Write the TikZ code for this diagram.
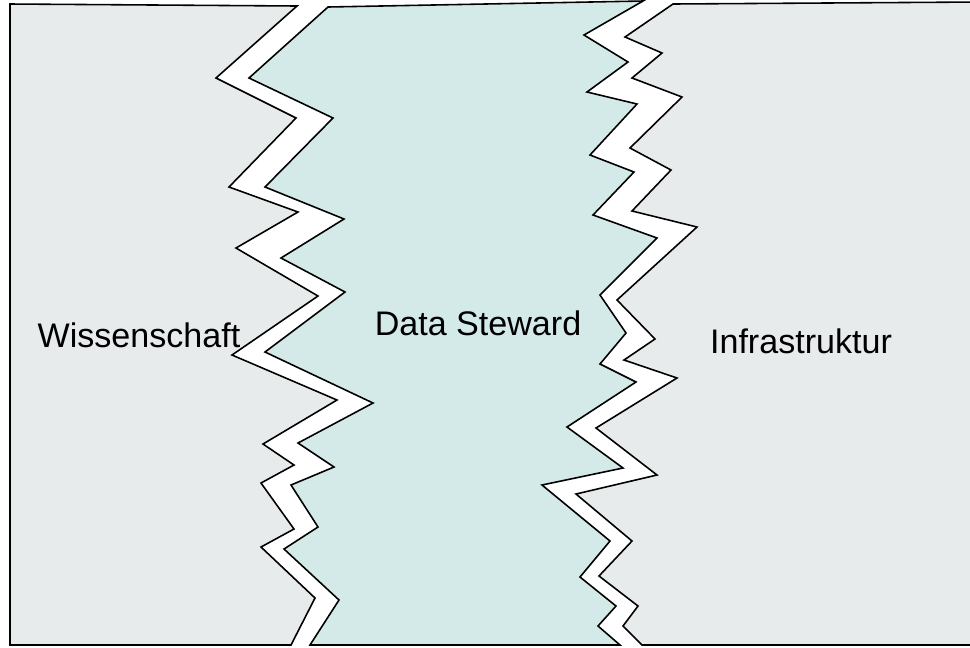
\documentclass[tikz,border=0pt]{standalone}
\usepackage{fontspec}
\setmainfont{Liberation Sans}
\definecolor{sciencegray}{HTML}{E8EBEC}
\definecolor{stewardteal}{HTML}{D3EAE8}
\begin{document}
\begin{tikzpicture}[x=0.02cm,y=-0.02cm,
    area/.style={draw=black,line width=0.9pt,line join=miter},
    areatext/.style={font=\fontsize{19.4}{23}\selectfont,anchor=base}]
    \useasboundingbox (0,0) rectangle (970,647);

    % Wissenschaft
    \filldraw[area,fill=sciencegray] (10,4) -- (297,6) -- (216,78) -- (296,118) -- (229,187)
        -- (298,212) -- (236,248) -- (318,296) -- (232,355) -- (337,400) -- (263,444)
        -- (294,465) -- (261,483) -- (294,529) -- (261,547) -- (315,598) -- (291,645)
        -- (10,645) -- cycle;

    % Data Steward
    \filldraw[area,fill=stewardteal] (328,7) -- (643,1) -- (584,35) -- (628,62) -- (587,92)
        -- (637,104) -- (590,155) -- (634,172) -- (593,215) -- (657,238) -- (600,295)
        -- (626,333) -- (600,364) -- (636,382) -- (567,427) -- (623,468) -- (542,485)
        -- (610,541) -- (580,577) -- (616,606) -- (598,626) -- (620,645)
        -- (310,645) -- (339,600) -- (284,549) -- (318,527) -- (291,485) -- (334,467)
        -- (298,443) -- (373,403) -- (265,352) -- (345,292) -- (281,258) -- (344,219)
        -- (265,187) -- (333,118) -- (249,78) -- cycle;

    % Infrastruktur
    \filldraw[area,fill=sciencegray] (673,4) -- (980,2) -- (980,645) -- (642,645) -- (623,626)
        -- (638,606) -- (599,576) -- (632,541) -- (576,494) -- (657,475) -- (596,428)
        -- (677,378) -- (624,360) -- (655,339) -- (617,300) -- (697,227) -- (632,211)
        -- (671,170) -- (630,148) -- (682,97) -- (632,78) -- (662,53) -- (625,37) -- cycle;

    \node[areatext] (science) at (139,347) {Wissenschaft};
    \node[areatext] (steward) at (478,335) {Data Steward};
    \node[areatext] (infra) at (801,353) {Infrastruktur};
\end{tikzpicture}
\end{document}
